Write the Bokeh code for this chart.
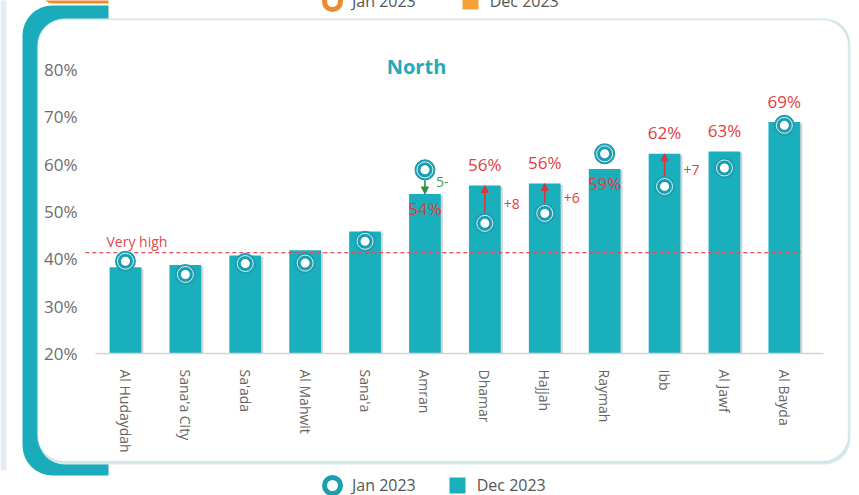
from bokeh.plotting import figure
from bokeh.models import (ColumnDataSource, Range1d, FixedTicker, PrintfTickFormatter,
                          BoxAnnotation, Label, Legend, LegendItem, Arrow, NormalHead)
from bokeh.core.properties import value
from bokeh.embed import file_html
from bokeh.resources import INLINE

# ---------------- data ----------------
title_text = "North"
governorates = ["Al Hudaydah", "Sana'a City", "Sa'ada", "Al Mahwit", "Sana'a", "Amran",
                "Dhamar", "Hajjah", "Raymah", "Ibb", "Al Jawf", "Al Bayda"]
dec_2023 = [38.2, 38.7, 40.7, 41.8, 45.8, 53.7, 55.5, 55.9, 59.0, 62.2, 62.7, 68.9]
jan_2023 = [39.5, 36.7, 39.0, 39.1, 43.7, 58.8, 47.5, 49.6, 62.2, 55.3, 59.2, 68.2]
value_labels = ["", "", "", "", "", "54%", "56%", "56%", "59%", "62%", "63%", "69%"]
change_labels = ["", "", "", "", "", "5-", "+8", "+6", "", "+7", "", ""]
very_high = 41.3
very_high_label = "Very high"
y_ticks = [20, 30, 40, 50, 60, 70, 80]
series_names = ["Jan 2023", "Dec 2023"]

# ---------------- layout (page px) ----------------
W, H = 859, 495
AX_LEFT, AX_RIGHT, AX_BOTTOM = 95, 823, 353     # chart area edges
px_per_unit = 4.733                              # px per percentage point
step_px = 59.9                                   # px per category
y_base = 20
x_first = -0.5
x_last = x_first + (AX_RIGHT - AX_LEFT) / step_px
# frame covers the whole canvas; ranges chosen so the chart area lands on its place
X0 = x_first - AX_LEFT / step_px
X1 = x_first + (W - AX_LEFT) / step_px
Y0 = y_base - (H - AX_BOTTOM) / px_per_unit
Y1 = y_base + AX_BOTTOM / px_per_unit

def sy(py):  # page y -> screen y measured upwards from canvas bottom
    return H - py

TEAL_BAR = "#1aafbd"
TEAL_DOT = "#1a9fb0"
ORANGE = "#f0892a"
RED = "#e23c40"
GREEN = "#3f9f55"
FONT = "Open Sans"

p = figure(width=W, height=H, x_range=Range1d(X0, X1), y_range=Range1d(Y0, Y1),
           output_backend="svg", toolbar_location=None,
           min_border=0, min_border_left=0, min_border_right=0,
           min_border_top=0, min_border_bottom=0,
           background_fill_color="white", border_fill_color="white",
           outline_line_color=None)
p.xgrid.visible = False
p.ygrid.visible = False

def box(l, r, t, b, **kw):
    return BoxAnnotation(left=l, right=r, top=sy(t), bottom=sy(b),
                         left_units="screen", right_units="screen",
                         top_units="screen", bottom_units="screen",
                         level="image", **kw)

# ---------------- decorations ----------------
p.add_layout(box(0, 6, -5, 470, fill_color="#e4edf5", fill_alpha=1, line_color=None))
p.add_layout(box(42, 108, -20, 3, fill_color=ORANGE, fill_alpha=1, line_color=None,
                 border_radius=dict(top_left=0, top_right=0, bottom_right=0, bottom_left=10)))
p.add_layout(box(22, 108, 5, 475, fill_color="#1aacba", fill_alpha=1, line_color=None,
                 border_radius=dict(top_left=30, top_right=0, bottom_right=0, bottom_left=30)))
p.add_layout(box(38, 850, 18, 464, fill_color="#d9e8ea", fill_alpha=1, line_color=None,
                 border_radius=26))
p.add_layout(box(37, 848, 19, 461, fill_color="white", fill_alpha=1, line_color="#9ed6db",
                 line_width=1.5, border_radius=26))

# ---------------- axes ----------------
n = len(governorates)
idx = list(range(n))
xa = p.xaxis[0]
xa.fixed_location = y_base
xa.bounds = (x_first, x_last)
xa.ticker = FixedTicker(ticks=idx)
xa.major_label_overrides = {i: g for i, g in enumerate(governorates)}
xa.major_label_orientation = "vertical"
xa.axis_line_color = "#d4d4d4"
xa.axis_line_width = 1.5
xa.major_tick_line_color = None
xa.minor_tick_line_color = None
xa.major_label_standoff = 10
xa.major_label_text_font = FONT
xa.major_label_text_font_size = "14px"
xa.major_label_text_color = "#666666"

ya = p.yaxis[0]
ya.fixed_location = x_first
ya.bounds = (y_ticks[0], y_ticks[-1])
ya.ticker = FixedTicker(ticks=y_ticks)
ya.formatter = PrintfTickFormatter(format="%d%%")
ya.axis_line_color = None
ya.major_tick_line_color = None
ya.minor_tick_line_color = None
ya.major_label_standoff = 12
ya.major_label_text_font = FONT
ya.major_label_text_font_size = "17px"
ya.major_label_text_color = "#6d6d6d"

# ---------------- bars & dots ----------------
r_data = 10.5 / px_per_unit
src = ColumnDataSource(dict(
    x=idx,
    xs=[i + 0.035 for i in idx],
    dec=dec_2023,
    dec_s=[d - 0.3 for d in dec_2023],
    jan=jan_2023,
    vlabel=value_labels,
    voff=[-21 if j <= d else 15 for j, d in zip(jan_2023, dec_2023)],
))
p.vbar(x="xs", top="dec_s", bottom=y_base, width=0.53, source=src,
       fill_color="#888888", fill_alpha=0.35, line_color=None)
p.vbar(x="x", top="dec", bottom=y_base, width=0.53, source=src,
       fill_color=TEAL_BAR, line_color=None)

p.line(x=[x_first - 0.17, n - 1 + 0.27], y=[very_high, very_high], line_color="#e0505a",
       line_dash="4 3", line_width=1.2)

p.scatter("x", "jan", source=src, marker="circle", size=15, fill_color="white",
          line_color=TEAL_DOT, line_width=6)
p.scatter("x", "jan", source=src, marker="circle", size=16, fill_color=None,
          line_color="white", line_width=1, line_alpha=0.85)

p.text(x="x", y="dec", text="vlabel", y_offset="voff", source=src,
       text_align="center", text_baseline="middle", text_font=value(FONT),
       text_font_size="17px", text_color=RED)

# ---------------- change arrows ----------------
inc = dict(x=[], ys=[], ye=[], ym=[], t=[])
dcr = dict(x=[], ys=[], ye=[], ym=[], t=[])
for i, (j, d, c) in enumerate(zip(jan_2023, dec_2023, change_labels)):
    if not c:
        continue
    tgt = inc if d > j else dcr
    tgt["x"].append(i)
    tgt["ys"].append(j + r_data if d > j else j - r_data)
    tgt["ye"].append(d)
    tgt["ym"].append((j + d) / 2)
    tgt["t"].append(c)

inc_src = ColumnDataSource(inc)
dcr_src = ColumnDataSource(dcr)
p.add_layout(Arrow(x_start="x", y_start="ys", x_end="x", y_end="ye", source=inc_src,
                   line_color="#d9363e", line_width=1.6,
                   end=NormalHead(size=7, fill_color="#d9363e", line_color="#d9363e")))
p.add_layout(Arrow(x_start="x", y_start="ys", x_end="x", y_end="ye", source=dcr_src,
                   line_color="#2e9040", line_width=1.6,
                   end=NormalHead(size=7, fill_color="#2e9040", line_color="#2e9040")))
p.text(x="x", y="ym", text="t", source=inc_src, x_offset=19, text_align="left",
       text_baseline="middle", text_font=value(FONT), text_font_size="14px", text_color=RED)
p.text(x="x", y="ym", text="t", source=dcr_src, x_offset=11, text_align="left",
       text_baseline="middle", text_font=value(FONT), text_font_size="14px", text_color=GREEN)

# ---------------- texts ----------------
p.add_layout(Label(x=416, y=sy(66), x_units="screen", y_units="screen",
                   text=title_text, text_align="center", text_baseline="middle",
                   text_font=FONT, text_font_style="bold", text_font_size="20px",
                   text_color="#25a8b8"))
p.add_layout(Label(x=106, y=very_high, x_units="screen", y_units="data",
                   text=very_high_label, text_align="left", text_baseline="bottom",
                   y_offset=2, text_font=FONT, text_font_size="14px",
                   text_color="#e0474c"))

# ---------------- legends ----------------
# a single point outside the visible range: only the legend swatch shows
dummy = ColumnDataSource(dict(x=[X0 - 100], y=[Y0 - 100]))
leg_jan = p.scatter("x", "y", source=dummy, marker="circle", fill_color="white",
                    line_color=TEAL_DOT, line_width=5)
leg_dec = p.scatter("x", "y", source=dummy, marker="square", fill_color=TEAL_BAR,
                    line_color=None)
legend = Legend(items=[LegendItem(label=series_names[0], renderers=[leg_jan]),
                       LegendItem(label=series_names[1], renderers=[leg_dec])],
                location=(312, sy(505)), orientation="horizontal",
                glyph_width=40, glyph_height=40, label_standoff=-3, spacing=21,
                padding=0, margin=0, border_line_color=None, background_fill_alpha=0,
                label_text_font=FONT, label_text_font_size="16px",
                label_text_color="#555555")
p.add_layout(legend)

# cut-off legend of the previous panel at the very top
top_jan = p.scatter("x", "y", source=dummy, marker="circle", fill_color="white",
                    line_color=ORANGE, line_width=5)
top_dec = p.scatter("x", "y", source=dummy, marker="square", fill_color="#f5a036",
                    line_color=None)
legend_top = Legend(items=[LegendItem(label=series_names[0], renderers=[top_jan]),
                           LegendItem(label=series_names[1], renderers=[top_dec])],
                    location=(312, sy(21)), orientation="horizontal",
                    glyph_width=40, glyph_height=40, label_standoff=-3, spacing=34,
                    padding=0, margin=0, border_line_color=None, background_fill_alpha=0,
                    label_text_font=FONT, label_text_font_size="16px",
                    label_text_color="#555555")
p.add_layout(legend_top)

open("out.html", "w").write(file_html(p, INLINE))
